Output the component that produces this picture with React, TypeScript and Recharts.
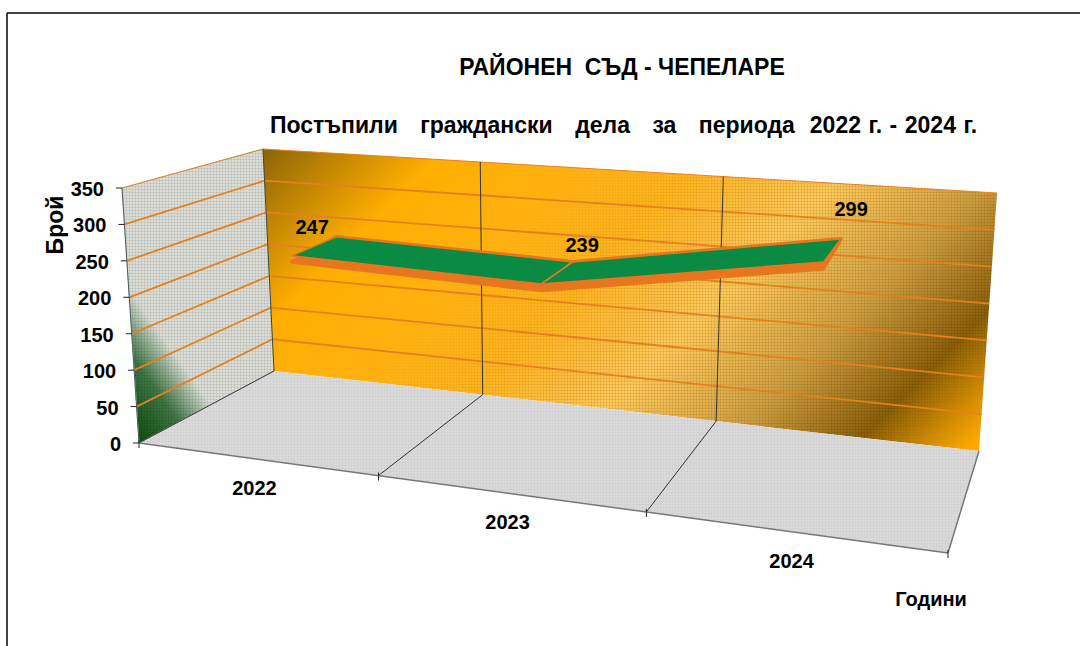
import React from 'react';
import { ComposedChart, Line, XAxis, YAxis, Customized } from 'recharts';

const years = ['2022', '2023', '2024'];
const cases = [247, 239, 299];
const valueTicks = [0, 50, 100, 150, 200, 250, 300, 350];

const chartData = years.map((year, i) => ({ year, cases: cases[i] }));

// plot rectangle handed to recharts, the scales are read back from it
const PLOT = { left: 139, top: 188, width: 809, height: 255 };
const FONT = '"Liberation Sans", Arial, sans-serif';

type P = [number, number];

// corners of the 3d box as seen on screen
const FRONT_BL: P = [139, 443];
const FRONT_BR: P = [948, 553];
const FRONT_TL: P = [122, 188];
const FRONT_TR: P = [972, 256];
const BACK_BL: P = [274, 371];
const BACK_BR: P = [979, 451];
const BACK_TL: P = [263, 149];
const BACK_TR: P = [997, 193];

const lerp = (a: P, b: P, t: number): P => [a[0] + (b[0] - a[0]) * t, a[1] + (b[1] - a[1]) * t];

// u along the years, v up the values, d from front (0) to back (1)
const project = (u: number, v: number, d: number): P => {
  const k = 0.841;
  const U = (k * u) / (1 + (k - 1) * u);
  const front = lerp(lerp(FRONT_BL, FRONT_BR, U), lerp(FRONT_TL, FRONT_TR, U), v);
  const back = lerp(lerp(BACK_BL, BACK_BR, U), lerp(BACK_TL, BACK_TR, U), v);
  return lerp(front, back, d);
};

const toU = (x: number) => (x - PLOT.left) / PLOT.width;
const toV = (y: number) => (PLOT.top + PLOT.height - y) / PLOT.height;

const poly = (pts: P[]) => pts.map(p => p.join(',')).join(' ');

const RIBBON_FRONT = 0.36;
const RIBBON_BACK = 0.72;
const RIBBON_DROP = 0.024;
const labelNudge: P[] = [[-2, -19], [25, -28], [19, -42]];

const textStyle = { fontFamily: FONT, fontWeight: 700, fontSize: 20, fill: '#000' };
const titleStyle = { ...textStyle, fontSize: 23, whiteSpace: 'pre' as const };

const Walls = () => {
  const cuts = [1 / 3, 2 / 3];
  return (
    <g>
      <defs>
        <linearGradient id="goldWall" gradientUnits="userSpaceOnUse" x1={206} y1={206} x2={710} y2={710}>
          <stop offset="0" stopColor="#8C6408" />
          <stop offset="0.18" stopColor="#FFAE00" />
          <stop offset="0.45" stopColor="#FFB41E" />
          <stop offset="0.6" stopColor="#FFC858" />
          <stop offset="0.75" stopColor="#D0A040" />
          <stop offset="0.88" stopColor="#8C5F08" />
          <stop offset="1" stopColor="#FFAA00" />
        </linearGradient>
        <linearGradient id="greenWall" gradientUnits="userSpaceOnUse" x1={139} y1={443} x2={205} y2={396}>
          <stop offset="0" stopColor="#0B4F0E" />
          <stop offset="0.55" stopColor="#3F7544" />
          <stop offset="1" stopColor="#DADDD5" />
        </linearGradient>
        <pattern id="dither" width={3} height={3} patternUnits="userSpaceOnUse">
          <rect width={3} height={1} fill="#000" fillOpacity={0.07} />
          <rect width={1} height={3} fill="#000" fillOpacity={0.07} />
        </pattern>
        <linearGradient id="ditherFade" gradientUnits="userSpaceOnUse" x1={206} y1={206} x2={710} y2={710}>
          <stop offset="0.3" stopColor="#000" />
          <stop offset="0.55" stopColor="#fff" />
          <stop offset="0.88" stopColor="#fff" />
          <stop offset="0.95" stopColor="#000" />
        </linearGradient>
        <mask id="ditherMask" maskUnits="userSpaceOnUse" x={0} y={0} width={1080} height={646}>
          <rect width={1080} height={646} fill="url(#ditherFade)" />
        </mask>
      </defs>
      <line x1={7} y1={13} x2={1080} y2={13} stroke="#000" strokeWidth={1.5} />
      <line x1={7} y1={13} x2={7} y2={646} stroke="#000" strokeWidth={1.5} />

      <polygon points={poly([FRONT_TL, BACK_TL, BACK_BL, FRONT_BL])} fill="url(#greenWall)" stroke="#A8DDBB" strokeWidth={1} />
      <polygon points={poly([FRONT_TL, BACK_TL, BACK_BL, FRONT_BL])} fill="url(#dither)" />
      <polygon points={poly([BACK_TL, BACK_TR, BACK_BR, BACK_BL])} fill="url(#goldWall)" />
      <polygon points={poly([BACK_TL, BACK_TR, BACK_BR, BACK_BL])} fill="url(#dither)" mask="url(#ditherMask)" />
      <polygon points={poly([FRONT_BL, FRONT_BR, BACK_BR, BACK_BL])} fill="#DADADA" />
      <polygon points={poly([FRONT_BL, FRONT_BR, BACK_BR, BACK_BL])} fill="url(#dither)" fillOpacity={0.4} />

      {valueTicks.slice(1).map(t => {
        const v = t / 350;
        return (
          <polyline
            key={t}
            points={poly([project(0, v, 0), project(0, v, 1), project(1, v, 1)])}
            fill="none"
            stroke="#E5801F"
            strokeWidth={t === 350 ? 1 : 1.8}
          />
        );
      })}

      {cuts.map(u => (
        <polyline
          key={u}
          points={poly([project(u, 0, 0), project(u, 0, 1), project(u, 1, 1)])}
          fill="none"
          stroke="#333"
          strokeWidth={1}
        />
      ))}

      <line x1={FRONT_TL[0]} y1={FRONT_TL[1]} x2={FRONT_BL[0]} y2={FRONT_BL[1]} stroke="#556" strokeWidth={1} />
      <line x1={BACK_TL[0]} y1={BACK_TL[1]} x2={BACK_BL[0]} y2={BACK_BL[1]} stroke="#444" strokeWidth={1} />
      <line x1={FRONT_BL[0]} y1={FRONT_BL[1]} x2={BACK_BL[0]} y2={BACK_BL[1]} stroke="#333" strokeWidth={1} />
      <line x1={FRONT_BL[0]} y1={FRONT_BL[1]} x2={FRONT_BR[0]} y2={FRONT_BR[1]} stroke="#777" strokeWidth={1.5} />
      <line x1={FRONT_BR[0]} y1={FRONT_BR[1]} x2={BACK_BR[0]} y2={BACK_BR[1]} stroke="#777" strokeWidth={1.5} />

      {[0, ...cuts, 1].map(u => {
        const p = project(u, 0, 0);
        return <line key={u} x1={p[0]} y1={p[1] - 3} x2={p[0]} y2={p[1] + 5} stroke="#222" strokeWidth={1} />;
      })}

      <text x={622} y={75} textAnchor="middle" xmlSpace="preserve" style={titleStyle}>
        РАЙОНЕН  СЪД - ЧЕПЕЛАРЕ
      </text>
      <text x={623.5} y={133} textAnchor="middle" xmlSpace="preserve" style={{ ...titleStyle, wordSpacing: 1.1 }}>
        Постъпили   граждански   дела   за   периода  2022 г. - 2024 г.
      </text>
      <text x={63} y={225} textAnchor="middle" transform="rotate(-90 63 225)" style={{ ...textStyle, fontSize: 23 }}>
        Брой
      </text>
      <text x={931} y={606} textAnchor="middle" style={textStyle}>
        Години
      </text>
    </g>
  );
};

const ValueTick = ({ y, payload }: any) => {
  const p = project(0, toV(y), 0);
  return (
    <g>
      <line x1={p[0] - 6} y1={p[1]} x2={p[0]} y2={p[1]} stroke="#222" strokeWidth={1} />
      <text x={p[0] - 18} y={p[1] + 8} textAnchor="end" style={textStyle}>
        {payload.value}
      </text>
    </g>
  );
};

const YearTick = ({ x, payload }: any) => {
  const p = project(toU(x), 0, 0);
  return (
    <text x={p[0] - 1} y={p[1] + 36} textAnchor="middle" style={textStyle}>
      {payload.value}
    </text>
  );
};

const seen: P[] = [];

// the ribbon is drawn once recharts has placed the last point
const RibbonDot = ({ cx, cy, index }: any) => {
  seen[index] = [toU(cx), toV(cy)];
  if (index !== cases.length - 1) return <g key={index} />;
  return (
    <g key={index}>
      {seen.slice(0, -1).map((a, i) => {
        const b = seen[i + 1];
        const top = [
          project(a[0], a[1], RIBBON_FRONT),
          project(a[0], a[1], RIBBON_BACK),
          project(b[0], b[1], RIBBON_BACK),
          project(b[0], b[1], RIBBON_FRONT),
        ];
        const under = [
          project(a[0], a[1] - RIBBON_DROP, RIBBON_FRONT),
          project(a[0], a[1], RIBBON_BACK),
          project(b[0], b[1], RIBBON_BACK),
          project(b[0], b[1] - RIBBON_DROP, RIBBON_FRONT),
        ];
        return (
          <g key={i}>
            <polygon points={poly(under)} fill="#E8761E" stroke="#E8761E" strokeWidth={4} strokeLinejoin="round" />
            <polygon points={poly(top)} fill="#0B8A43" stroke="#E8761E" strokeWidth={1.5} strokeLinejoin="round" />
          </g>
        );
      })}
    </g>
  );
};

const CaseLabel = ({ x, y, value, index }: any) => {
  const p = project(toU(x), toV(y), (RIBBON_FRONT + RIBBON_BACK) / 2);
  return (
    <text x={p[0] + labelNudge[index][0]} y={p[1] + labelNudge[index][1] + 7} textAnchor="middle" style={textStyle}>
      {value}
    </text>
  );
};

export default function App() {
  return (
    <div style={{ position: 'absolute', left: 0, top: 0, width: 1080, height: 646, background: '#fff' }}>
      <ComposedChart
        width={1080}
        height={646}
        data={chartData}
        margin={{ left: 79, top: 188, right: 132, bottom: 173 }}
      >
        <Customized component={Walls} />
        <XAxis dataKey="year" scale="band" height={30} axisLine={false} tickLine={false} tick={<YearTick />} interval={0} />
        <YAxis
          width={60}
          domain={[0, 350]}
          ticks={valueTicks}
          interval={0}
          axisLine={false}
          tickLine={false}
          tick={<ValueTick />}
        />
        <Line
          dataKey="cases"
          stroke="none"
          isAnimationActive={false}
          dot={(props: any) => <RibbonDot key={props.index} {...props} />}
          label={(props: any) => <CaseLabel key={props.index} {...props} />}
        />
      </ComposedChart>
    </div>
  );
}
